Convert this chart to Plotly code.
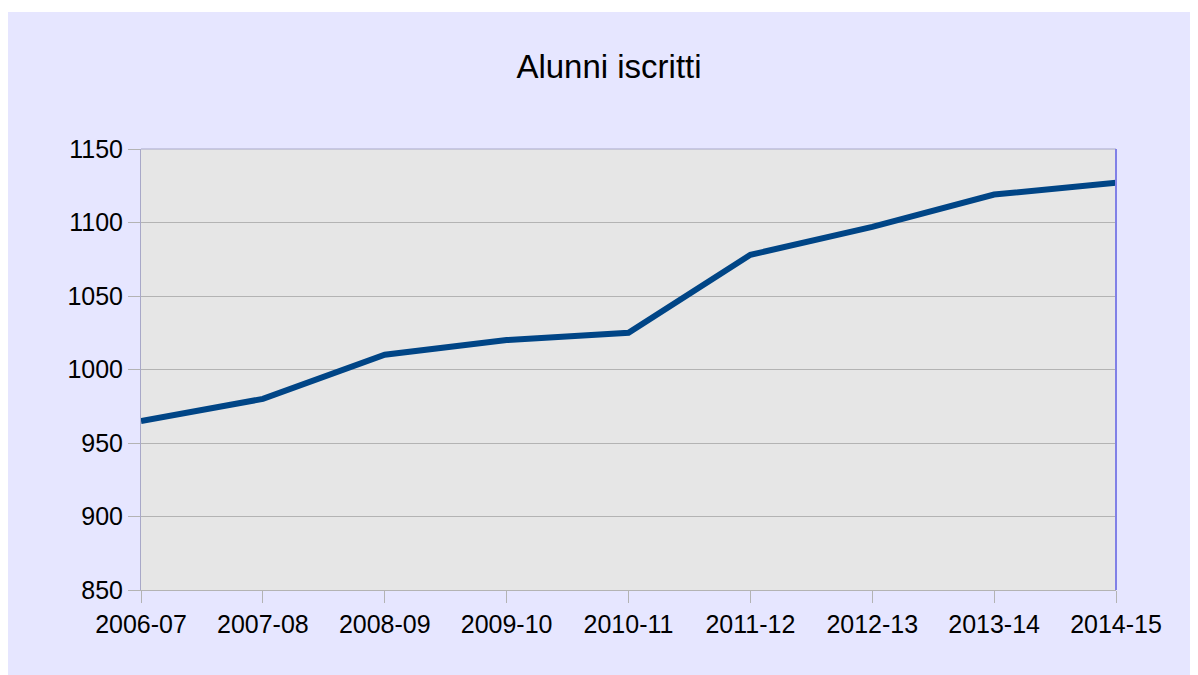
import plotly.graph_objects as go

categories = ["2006-07", "2007-08", "2008-09", "2009-10", "2010-11",
              "2011-12", "2012-13", "2013-14", "2014-15"]
alunni = [965, 980, 1010, 1020, 1025, 1078, 1097, 1119, 1127]
y_ticks = [850, 900, 950, 1000, 1050, 1100, 1150]

# page body has an 8px margin; figure is placed at (8, 8)
OFF = 8
W, H = 1198 - OFF, 675 - OFF
L, R, T, B = 141 - OFF, 82, 149 - OFF, 85
pw, ph = W - L - R, H - T - B

def px_x(p):
    return (p - L) / pw

def px_y(p):
    return (H - B - p) / ph

fig = go.Figure()
fig.add_trace(go.Scatter(
    x=list(range(len(categories))), y=alunni, mode="lines",
    line=dict(color="#004586", width=6), showlegend=False,
    hoverinfo="skip"))

fig.update_layout(
    width=W, height=H,
    margin=dict(l=L, r=R, t=T, b=B),
    paper_bgcolor="#e6e6ff",
    plot_bgcolor="#e6e6e6",
    font=dict(family="Liberation Sans, Arial, sans-serif", size=25, color="#000000"),
    title=dict(text="Alunni iscritti", x=(609 - OFF) / W, xanchor="center",
               y=1 - (66 - OFF) / H, yanchor="middle", yref="container",
               font=dict(size=33, color="#000000")),
    xaxis=dict(
        range=[0, len(categories) - 1],
        tickmode="array",
        tickvals=list(range(len(categories))),
        ticktext=categories,
        showgrid=False, zeroline=False,
        showline=True, linecolor="#b3b3b3", linewidth=1,
        ticks="outside", ticklen=12, tickcolor="#b3b3b3", tickwidth=1,
        tickfont=dict(size=25),
    ),
    yaxis=dict(
        range=[850, 1150],
        tickmode="array", tickvals=y_ticks,
        showgrid=True, gridcolor="#b3b3b3", gridwidth=1,
        zeroline=False,
        showline=True, linecolor="#a8a8c8", linewidth=1,
        ticks="outside", ticklen=12, tickcolor="#b3b3b3", tickwidth=1,
        tickfont=dict(size=25),
    ),
    shapes=[
        # extra white strip at top (reference lavender starts at y=12)
        dict(type="rect", xref="paper", yref="paper",
             x0=px_x(-5), x1=px_x(W + 5), y0=px_y(12 - OFF), y1=px_y(-5),
             fillcolor="white", line=dict(width=0), layer="above"),
        # top border
        dict(type="line", xref="paper", yref="paper", x0=0, x1=1, y0=1, y1=1,
             line=dict(color="#a8a8c8", width=1), layer="above"),
        # right border
        dict(type="line", xref="paper", yref="paper", x0=1, x1=1, y0=0, y1=1,
             line=dict(color="#8080e6", width=2), layer="above"),
    ],
)

fig.write_html("out.html")
